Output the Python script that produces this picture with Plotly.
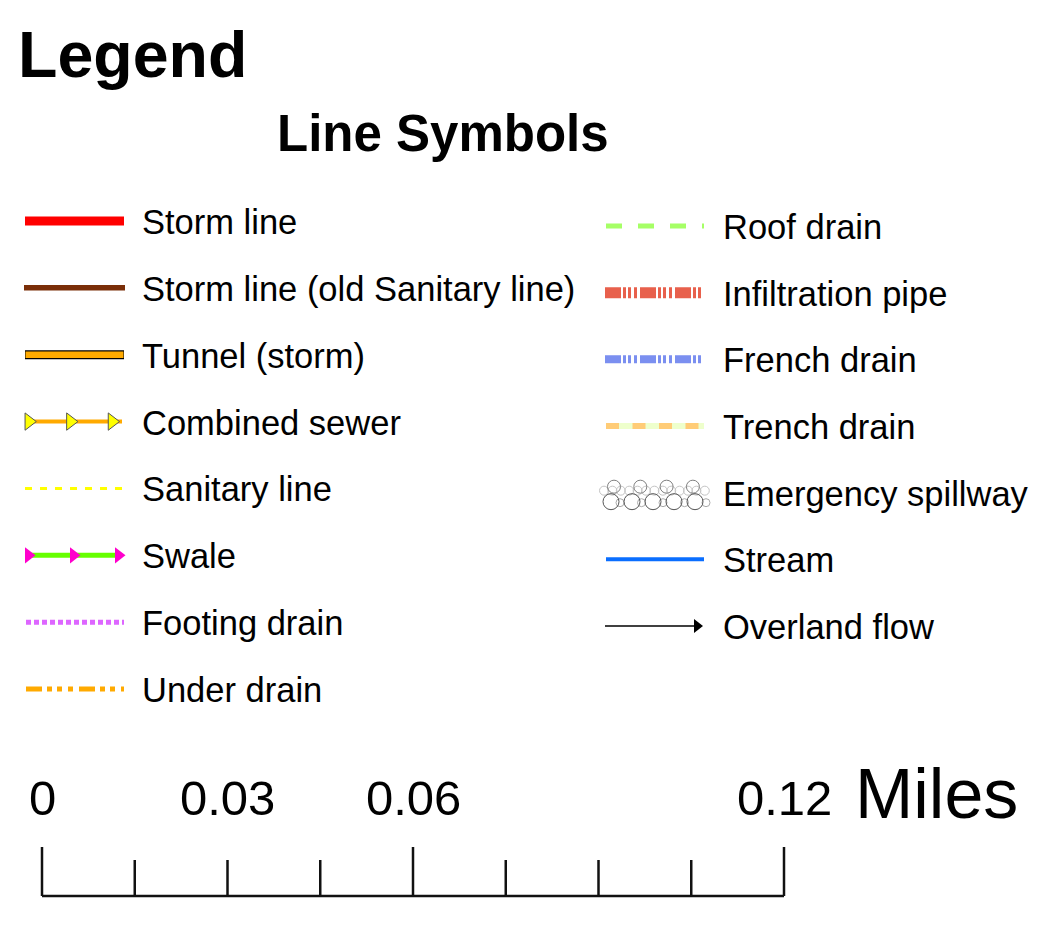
import numpy as np
import plotly.graph_objects as go

# ---------------- data ----------------
title_text = "Legend"
subtitle_text = "Line Symbols"

left_labels = ["Storm line", "Storm line (old Sanitary line)", "Tunnel (storm)",
               "Combined sewer", "Sanitary line", "Swale", "Footing drain", "Under drain"]
right_labels = ["Roof drain", "Infiltration pipe", "French drain", "Trench drain",
                "Emergency spillway", "Stream", "Overland flow"]

scale_ticks = [0, 0.015, 0.03, 0.045, 0.06, 0.075, 0.09, 0.105, 0.12]   # miles
scale_major = [0, 0.06, 0.12]
scale_labels = ["0", "0.03", "0.06", "0.12"]
scale_label_values = [0, 0.03, 0.06, 0.12]
scale_unit = "Miles"

# ---------------- layout constants ----------------
W, H = 1038, 934
FONT = "Liberation Sans, Arial, Helvetica, sans-serif"
LEFT_SYM = (25, 124)
LEFT_TEXT_X = 140
LEFT_Y0, LEFT_DY = 221, 66.86
RIGHT_SYM = (606, 704)
RIGHT_TEXT_X = 721
RIGHT_Y0, RIGHT_DY = 226, 66.67
SCALE_X0, SCALE_X1 = 42, 784
SCALE_BASE_Y = 896
MAJOR_TOP, MINOR_TOP = 847, 860

fig = go.Figure()


def seg(x0, x1, y, color, width, dash="solid"):
    fig.add_trace(go.Scatter(x=[x0, x1], y=[y, y], mode="lines",
                             line=dict(color=color, width=width, dash=dash),
                             hoverinfo="skip", showlegend=False))


def marks(xs, ys, symbol, size, color, lcolor=None, lwidth=0):
    fig.add_trace(go.Scatter(x=list(xs), y=list(ys), mode="markers",
                             marker=dict(symbol=symbol, size=size, color=color,
                                         line=dict(color=lcolor or color, width=lwidth)),
                             hoverinfo="skip", showlegend=False))


ly = [LEFT_Y0 + i * LEFT_DY for i in range(len(left_labels))]
ry = [RIGHT_Y0 + i * RIGHT_DY for i in range(len(right_labels))]
a, b = LEFT_SYM

# Storm line
seg(a, b, ly[0], "#FF0000", 9)
# Storm line (old sanitary)
seg(a - 1, b + 1, ly[1], "#7A2E08", 5.5)
# Tunnel (storm)
seg(a, b, ly[2], "#000000", 9)
seg(a + 0.5, b - 0.5, ly[2], "#FFAA00", 6.5)
# Combined sewer
seg(a, b - 2, ly[3], "#FFAA00", 4)
marks(np.linspace(a + 3.8, b - 12, 3), [ly[3]] * 3, "triangle-right", 15,
      "#FFFF00", "#555555", 1)
# Sanitary line
seg(a, b, ly[4], "#FFFF00", 3, "7px,8px")
# Swale
seg(a, b - 4, ly[5], "#66FF00", 5)
marks(np.linspace(a + 3.5, b - 5.5, 3), [ly[5]] * 3, "triangle-right", 14, "#FF00CC")
# Footing drain
seg(a + 1, b, ly[6], "#DD66FF", 5, "5px,3px")
# Under drain
seg(a + 1, b, ly[7], "#FFAA00", 5, "16px,5px,5px,5px,5px,6px,5px,6px")

a, b = RIGHT_SYM
# Roof drain
seg(a, b, ry[0], "#A6FF66", 5, "16px,16px")
# Infiltration pipe
seg(a - 1, b - 2, ry[1], "#E8604C", 11, "16px,2px,3px,2px,3px,3px,3px,3px")
# French drain
seg(a - 1, b - 2, ry[2], "#7B8FF0", 8, "16px,2px,3px,2px,3px,3px,3px,3px")
# Trench drain
seg(a, b, ry[3], "#EEFFCC", 6)
seg(a, b, ry[3], "#FFCC77", 6, "13px,13.5px")
# Emergency spillway
yc = ry[4]
marks(np.arange(a - 2, b + 5, 8.4), [yc - 2] * 14, "circle-open", 9, "#C4C4C4", None, 1)
marks(np.arange(a + 8, b, 26.3), [yc - 6] * 4, "circle-open", 13, "#808080", None, 1)
marks(np.arange(a + 14, b + 5, 21.5), [yc + 10] * 5, "circle-open", 8, "#AAAAAA", None, 1)
marks(np.arange(a + 5, b, 21), [yc + 9] * 5, "circle-open", 16, "#555555", None, 1)
# Stream
seg(a, b, ry[5], "#0A6EFF", 4)
# Overland flow
seg(a - 1, b - 10, ry[6], "#000000", 1.5)
marks([b - 7], [ry[6]], "triangle-right", 12, "#000000")

annotations = []
for lab, y in zip(left_labels, ly):
    annotations.append(dict(x=LEFT_TEXT_X, y=y + 1, text=lab, xanchor="left", yanchor="middle",
                            showarrow=False, font=dict(family=FONT, size=34.5, color="black")))
for lab, y in zip(right_labels, ry):
    annotations.append(dict(x=RIGHT_TEXT_X, y=y + 1, text=lab, xanchor="left", yanchor="middle",
                            showarrow=False, font=dict(family=FONT, size=34.5, color="black")))
annotations.append(dict(x=16, y=55, text="<b>%s</b>" % title_text, xanchor="left", yanchor="middle",
                        showarrow=False, font=dict(family=FONT, size=64.5, color="black")))
annotations.append(dict(x=443, y=133, text="<b>%s</b>" % subtitle_text, xanchor="center",
                        yanchor="middle", showarrow=False,
                        font=dict(family=FONT, size=51, color="black")))

# ---------------- scale bar (on a miles axis) ----------------
span = 0.12
px_per_mile = (SCALE_X1 - SCALE_X0) / span
x2_range = [-SCALE_X0 / px_per_mile, (W - SCALE_X0) / px_per_mile]

sx, sy = [scale_ticks[0], scale_ticks[-1]], [SCALE_BASE_Y, SCALE_BASE_Y]
for t in scale_ticks:
    top = MAJOR_TOP if t in scale_major else MINOR_TOP
    sx += [None, t, t]
    sy += [None, SCALE_BASE_Y, top]
fig.add_trace(go.Scatter(x=sx, y=sy, mode="lines", xaxis="x2",
                         line=dict(color="#111111", width=2.5),
                         hoverinfo="skip", showlegend=False))
for lab, v in zip(scale_labels, scale_label_values):
    annotations.append(dict(x=v, y=798, xref="x2", yref="y", text=lab, xanchor="center",
                            yanchor="middle", showarrow=False,
                            font=dict(family=FONT, size=49, color="black")))
annotations.append(dict(x=853, y=794, text=scale_unit, xanchor="left", yanchor="middle",
                        showarrow=False, font=dict(family=FONT, size=70, color="black")))

fig.update_layout(
    width=W, height=H,
    margin=dict(l=0, r=0, t=0, b=0),
    paper_bgcolor="white", plot_bgcolor="white",
    xaxis=dict(range=[0, W], visible=False, fixedrange=True),
    xaxis2=dict(range=x2_range, visible=False, overlaying="x", fixedrange=True),
    yaxis=dict(range=[H, 0], visible=False, fixedrange=True),
    annotations=annotations,
    showlegend=False,
)

fig.write_html("out.html", config={"displayModeBar": False},
               post_script="document.body.style.margin='0';document.body.style.overflow='hidden';")
